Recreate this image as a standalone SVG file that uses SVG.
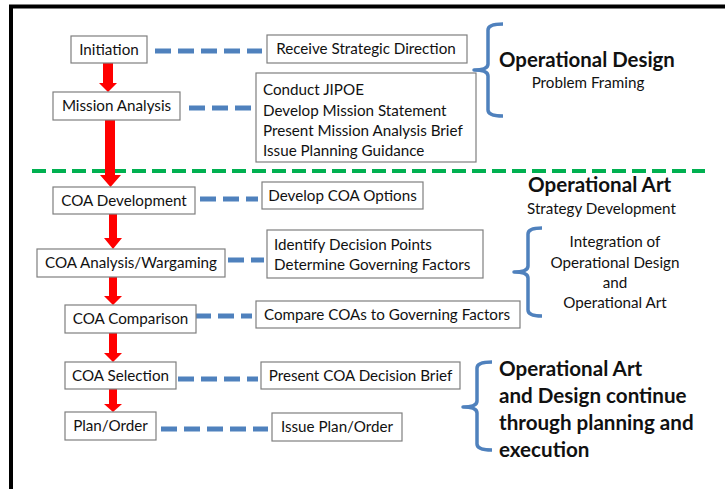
<svg xmlns="http://www.w3.org/2000/svg" width="725" height="489" viewBox="0 0 725 489">
<defs>
<style>
.box{fill:#fff;stroke:#7f7f7f;stroke-width:1.2}
.t{font-family:Lato,"Liberation Sans",sans-serif;font-size:15.2px;fill:#111}
.c{text-anchor:middle}
.b{font-weight:bold}
.big{font-size:20.6px}
.blue{stroke:#4f81bd;stroke-width:5;stroke-dasharray:16 7;fill:none}
.brace{stroke:#4f81bd;stroke-width:3.5;fill:none;stroke-linejoin:round}
.arrow{fill:#ff0000}
</style>
</defs>
<rect width="725" height="489" fill="#fff"/>
<path d="M11 489 V6.5 H725" fill="none" stroke="#000" stroke-width="4"/>
<line x1="32" y1="171" x2="705" y2="171" stroke="#00b050" stroke-width="4" stroke-dasharray="14 6"/>

<g id="connectors">
<path class="arrow" d="M103 63 H113 V83 H117 L108 92 L99 83 H103 Z"/>
<path class="arrow" d="M105 120 H115 V175 H121 L110.5 187 L100 175 H105 Z"/>
<path class="arrow" d="M109 214 H117 V238 H122 L113 249 L104 238 H109 Z"/>
<path class="arrow" d="M109 277 H117 V296 H122 L113 305 L104 296 H109 Z"/>
<path class="arrow" d="M109 333 H117 V353 H122 L113 362 L104 353 H109 Z"/>
<path class="arrow" d="M109 389 H117 V404 H122 L113 412 L104 404 H109 Z"/>
<line class="blue" x1="155" y1="51" x2="262" y2="51"/>
<line class="blue" x1="189" y1="108" x2="252" y2="108"/>
<line class="blue" x1="200" y1="199" x2="258" y2="199"/>
<line class="blue" x1="228" y1="260" x2="264" y2="260"/>
<line class="blue" x1="195" y1="316" x2="252" y2="316"/>
<line class="blue" x1="178" y1="379" x2="258" y2="379"/>
<line class="blue" x1="161" y1="429" x2="268" y2="429"/>
</g>

<g id="initiation"><rect class="box" x="71" y="36" width="76" height="27"/><text class="t c" x="109" y="54.5">Initiation</text></g>
<g id="mission-analysis"><rect class="box" x="53" y="92" width="127" height="28"/><text class="t c" x="116.5" y="111">Mission Analysis</text></g>
<g id="coa-development"><rect class="box" x="53" y="187" width="142" height="27"/><text class="t c" x="124" y="205.5">COA Development</text></g>
<g id="coa-analysis"><rect class="box" x="37" y="249" width="188" height="28"/><text class="t c" x="131" y="268">COA Analysis/Wargaming</text></g>
<g id="coa-comparison"><rect class="box" x="65" y="305" width="131" height="28"/><text class="t c" x="130.5" y="324">COA Comparison</text></g>
<g id="coa-selection"><rect class="box" x="65" y="362" width="111" height="27"/><text class="t c" x="120.5" y="380.5">COA Selection</text></g>
<g id="plan-order"><rect class="box" x="65" y="412" width="91" height="28"/><text class="t c" x="110.5" y="431">Plan/Order</text></g>

<g id="receive"><rect class="box" x="267" y="35" width="200" height="28"/><text class="t c" x="366" y="54">Receive Strategic Direction</text></g>
<g id="mission-tasks"><rect class="box" x="256" y="73" width="220" height="89"/>
<text class="t" x="263" y="95">Conduct JIPOE</text>
<text class="t" x="263" y="116">Develop Mission Statement</text>
<text class="t" x="263" y="136">Present Mission Analysis Brief</text>
<text class="t" x="263" y="156">Issue Planning Guidance</text></g>
<g id="develop-options"><rect class="box" x="262" y="182" width="161" height="27"/><text class="t c" x="342.5" y="200.5">Develop COA Options</text></g>
<g id="identify"><rect class="box" x="267" y="230" width="216" height="48"/>
<text class="t" x="274" y="250">Identify Decision Points</text>
<text class="t" x="274" y="270">Determine Governing Factors</text></g>
<g id="compare"><rect class="box" x="256" y="301" width="264" height="27"/><text class="t c" x="387" y="319.5">Compare COAs to Governing Factors</text></g>
<g id="present-brief"><rect class="box" x="261" y="362" width="199" height="27"/><text class="t c" x="360.5" y="380.5">Present COA Decision Brief</text></g>
<g id="issue-order"><rect class="box" x="272" y="413" width="130" height="28"/><text class="t c" x="337" y="432">Issue Plan/Order</text></g>

<g id="brace-design">
<path class="brace" d="M503 24 Q488 24 488 30 V64 Q488 70 474 70 Q488 70 488 76 V110 Q488 116 503 116"/>
<text class="t b" x="499" y="67" style="font-size:20.4px">Operational Design</text>
<text class="t c" x="588" y="88">Problem Framing</text>
</g>
<g id="operational-art">
<text class="t b big" x="528" y="192">Operational Art</text>
<text class="t" x="527" y="214">Strategy Development</text>
</g>
<g id="brace-integration">
<path class="brace" d="M542 228 Q528 228 528 234 V266 Q528 272 514 272 Q528 272 528 278 V310 Q528 316 542 316"/>
<text class="t c" x="615" y="247">Integration of</text>
<text class="t c" x="615" y="268">Operational Design</text>
<text class="t c" x="615" y="288">and</text>
<text class="t c" x="615" y="308">Operational Art</text>
</g>
<g id="brace-continue">
<path class="brace" d="M492 362 Q477 362 477 368 V401 Q477 407 463 407 Q477 407 477 413 V444 Q477 450 492 450"/>
<text class="t b big" x="499" y="376">Operational Art</text>
<text class="t b big" x="499" y="403">and Design continue</text>
<text class="t b big" x="499" y="430">through planning and</text>
<text class="t b big" x="499" y="457">execution</text>
</g>
</svg>
